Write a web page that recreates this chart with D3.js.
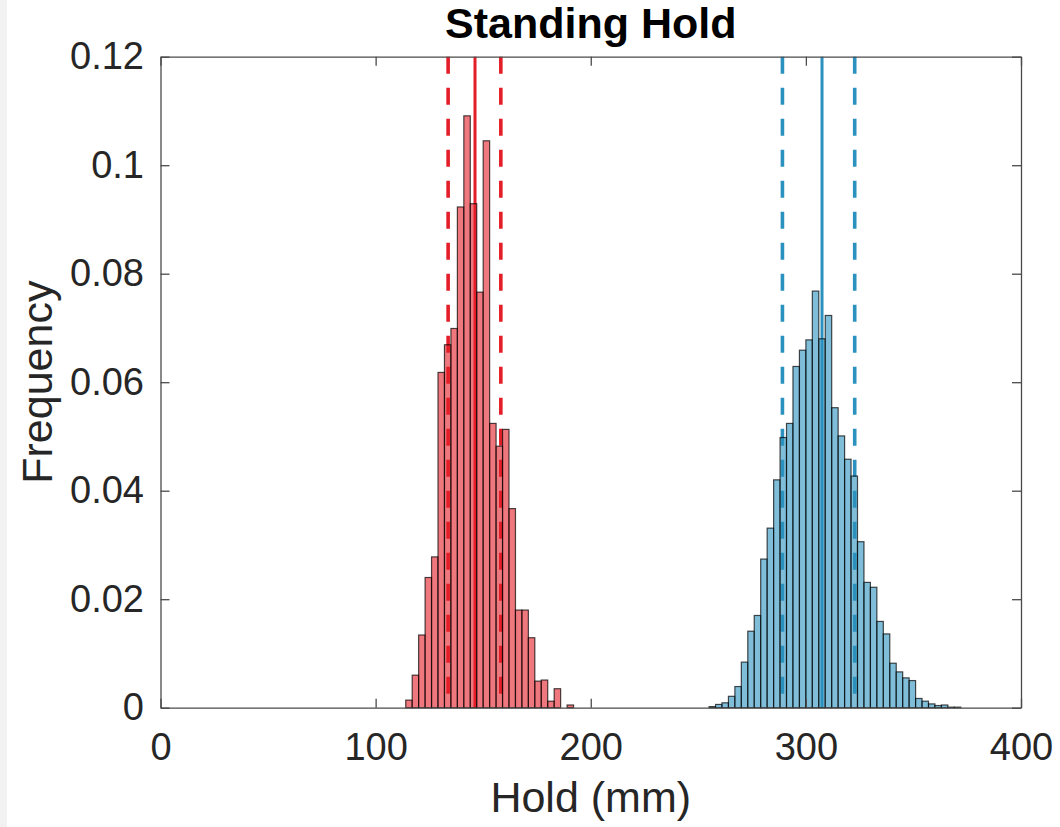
<!DOCTYPE html>
<html>
<head>
<meta charset="utf-8">
<script src="https://cdn.jsdelivr.net/npm/d3@7"></script>
<style>
  body { margin: 0; background: #fff; }
  text { font-family: "Liberation Sans", Arial, Helvetica, sans-serif; fill: #262626; }
</style>
</head>
<body>
<div class="chart"></div>
<script>
// histogram data, bin width 3 mm
var binWidth = 3;
var redStart = 114;
var redFreq = [0.0014, 0.0060, 0.0134, 0.0240, 0.0278, 0.0618, 0.0669, 0.0699, 0.0923, 0.1091,
               0.0929, 0.0766, 0.1045, 0.0524, 0.0482, 0.0513, 0.0367, 0.0180, 0.0180, 0.0129,
               0.0049, 0.0051, 0.0012, 0.0035, 0, 0.0005];
var blueStart = 255;
var blueFreq = [0.0002, 0.0006, 0.0009, 0.0021, 0.0039, 0.0084, 0.0141, 0.0170, 0.0274, 0.0331,
                0.0420, 0.0498, 0.0524, 0.0629, 0.0659, 0.0678, 0.0768, 0.0680, 0.0723, 0.0553,
                0.0501, 0.0458, 0.0427, 0.0306, 0.0231, 0.0222, 0.0159, 0.0136, 0.0082, 0.0066,
                0.0055, 0.0050, 0.0017, 0.0012, 0.0007, 0.0004, 0.0005, 0.0001, 0.0001];

// mean (solid) and spread (dashed) lines
var redMean = 146.2, redBounds = [133.7, 158.2];
var blueMean = 307.5, blueBounds = [289.1, 322.7];

var xTicks = [0, 100, 200, 300, 400];
var yTicks = [0, 0.02, 0.04, 0.06, 0.08, 0.1, 0.12];

var redColor = "#e41e28", blueColor = "#2b91be";

var W = 1060, H = 827;
var margin = {top: 56.7, right: 39, bottom: 119.3, left: 160.5},
    width = W - margin.left - margin.right,
    height = H - margin.top - margin.bottom;

var svg = d3.select(".chart").append("svg")
            .attr("width", W)
            .attr("height", H);

svg.append("rect").attr("x", 0).attr("y", 0).attr("width", 7).attr("height", H).attr("fill", "#f2f2f2");

var g = svg.append("g")
           .attr("transform", "translate(" + margin.left + "," + margin.top + ")");

var x = d3.scaleLinear().domain([0, 400]).range([0, width]);
var y = d3.scaleLinear().domain([0, 0.12]).range([height, 0]);

function toBins(start, freq) {
    return freq.map(function(f, i) { return {x0: start + i * binWidth, x1: start + (i + 1) * binWidth, f: f}; })
               .filter(function(d) { return d.f > 0; });
}

function vlines(mean, bounds, color) {
    g.append("line")
     .attr("x1", x(mean)).attr("x2", x(mean))
     .attr("y1", y(0)).attr("y2", y(0.12))
     .attr("stroke", color).attr("stroke-width", 3);
    g.selectAll(null)
     .data(bounds)
     .enter()
     .append("line")
     .attr("x1", function(d) { return x(d); }).attr("x2", function(d) { return x(d); })
     .attr("y1", y(0.12)).attr("y2", y(0))
     .attr("stroke", color).attr("stroke-width", 3.6)
     .attr("stroke-dasharray", "17,14");
}

function bars(start, freq, color) {
    g.append("g")
     .selectAll("rect")
     .data(toBins(start, freq))
     .enter()
     .append("rect")
     .attr("x", function(d) { return x(d.x0); })
     .attr("width", function(d) { return x(d.x1) - x(d.x0); })
     .attr("y", function(d) { return y(d.f); })
     .attr("height", function(d) { return y(0) - y(d.f); })
     .attr("fill", color)
     .attr("fill-opacity", 0.6)
     .attr("stroke", "#000")
     .attr("stroke-opacity", 0.7)
     .attr("stroke-width", 1.2);
}

// lines sit behind the semi-transparent bars
vlines(redMean, redBounds, redColor);
vlines(blueMean, blueBounds, blueColor);
bars(redStart, redFreq, redColor);
bars(blueStart, blueFreq, blueColor);

var tickLen = 9;
var fmt = d3.format("~g");

var xAxis = g.append("g")
   .attr("transform", "translate(0," + height + ")")
   .call(d3.axisBottom(x).tickValues(xTicks).tickFormat(fmt).tickSizeInner(-tickLen).tickSizeOuter(0).tickPadding(25));
var yAxis = g.append("g")
   .call(d3.axisLeft(y).tickValues(yTicks).tickFormat(fmt).tickSizeInner(-tickLen).tickSizeOuter(0).tickPadding(16.5));
var xTop = g.append("g")
   .call(d3.axisTop(x).tickValues(xTicks).tickFormat("").tickSizeInner(-tickLen).tickSizeOuter(0));
var yRight = g.append("g")
   .attr("transform", "translate(" + width + ",0)")
   .call(d3.axisRight(y).tickValues(yTicks).tickFormat("").tickSizeInner(-tickLen).tickSizeOuter(0));

[xAxis, yAxis, xTop, yRight].forEach(function(a) {
    a.selectAll("path").attr("stroke", "#4a4a4a").attr("stroke-width", 1.3);
    a.selectAll("line").attr("stroke", "#4a4a4a").attr("stroke-width", 1.3);
    a.selectAll("text").style("font-size", "38px").attr("fill", "#262626")
     .style("font-family", "'Liberation Sans', Arial, Helvetica, sans-serif");
});
// tick labels on x axis: digit top sits at the padding
xAxis.selectAll("text").attr("dy", "0.71em");

svg.append("text")
   .attr("x", margin.left + width / 2)
   .attr("y", 38)
   .attr("text-anchor", "middle")
   .style("font-size", "43px")
   .style("font-weight", "bold")
   .style("fill", "#000")
   .text("Standing Hold");

svg.append("text")
   .attr("x", margin.left + width / 2)
   .attr("y", 812)
   .attr("text-anchor", "middle")
   .style("font-size", "43px")
   .text("Hold (mm)");

svg.append("text")
   .attr("transform", "translate(52," + (margin.top + height / 2) + ") rotate(-90)")
   .attr("text-anchor", "middle")
   .style("font-size", "43px")
   .text("Frequency");
</script>
</body>
</html>
